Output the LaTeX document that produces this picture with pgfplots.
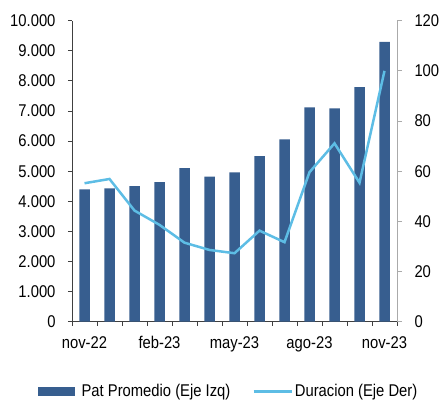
\documentclass[border=0pt]{standalone}
\usepackage{fontspec}
\setmainfont[FakeStretch=0.87]{Liberation Sans}
\usepackage{pgfplots}
\pgfplotsset{compat=1.18}
\definecolor{barblue}{RGB}{55,94,143}
\definecolor{lineblue}{RGB}{93,189,229}
\definecolor{axgray}{RGB}{64,64,64}
\definecolor{raxgray}{RGB}{170,170,170}
\newcommand{\myfont}{\fontsize{17bp}{20bp}\selectfont}
\begin{document}
\begin{tikzpicture}
\useasboundingbox (0,0) rectangle (441bp,401bp);
\begin{axis}[
  at={(72bp,79.3bp)}, anchor=south west,
  scale only axis, width=325bp, height=301bp,
  xmin=-0.5, xmax=12.5, ymin=0, ymax=10000,
  axis x line*=bottom, axis y line*=left,
  axis line style={axgray, line width=0.8bp},
  tick style={axgray, line width=0.8bp},
  tick align=outside, major tick length=4bp,
  xtick={-0.5,0.5,...,12.5}, xticklabels={},
  extra x ticks={0,3,6,9,12},
  extra x tick labels={nov-22,feb-23,may-23,ago-23,nov-23},
  extra x tick style={major tick length=0pt, tick label style={yshift=-11bp}},
  ytick={0,1000,...,10000},
  scaled y ticks=false,
  yticklabel style={/pgf/number format/fixed, /pgf/number format/1000 sep={.}, /pgf/number format/assume math mode=true, xshift=-9bp},
  tick label style={font=\myfont},
  ybar, bar width=10.5bp,
]
\addplot[fill=barblue, draw=none] coordinates {
(0,4400) (1,4430) (2,4500) (3,4640) (4,5100) (5,4820) (6,4960)
(7,5500) (8,6060) (9,7120) (10,7090) (11,7790) (12,9300)};
\end{axis}
\begin{axis}[
  at={(72bp,79.3bp)}, anchor=south west,
  scale only axis, width=325bp, height=301bp,
  xmin=-0.5, xmax=12.5, ymin=0, ymax=120,
  axis x line=none, axis y line*=right,
  axis line style={raxgray, line width=0.8bp},
  tick style={raxgray, line width=0.8bp},
  tick align=outside, major tick length=5bp,
  ytick={0,20,...,120},
  yticklabel style={/pgf/number format/assume math mode=true, font=\myfont, xshift=9bp},
  legend style={at={(-0.1046,-0.232)}, anchor=west, draw=none, fill=none, inner sep=0pt,
    font=\myfont, legend columns=2,
    /tikz/every even column/.append style={column sep=20bp}},
  legend cell align=left,
]
\addlegendimage{legend image code/.code={\fill[barblue] (0bp,-4bp) rectangle (36bp,4bp); \path (41bp,0bp);}}
\addlegendentry{Pat Promedio (Eje Izq)}
\addplot[lineblue, line width=2.5bp, mark=none, legend image code/.code={\draw[lineblue, line width=2.5bp] (0bp,0bp) -- (38bp,0bp);}] coordinates {
(0,55.2) (1,56.9) (2,44.3) (3,38.6) (4,31.5) (5,28.6) (6,27.3)
(7,36.3) (8,31.7) (9,59.6) (10,71.1) (11,55.4) (12,100)};
\addlegendentry{Duracion (Eje Der)}
\end{axis}
\end{tikzpicture}
\end{document}
